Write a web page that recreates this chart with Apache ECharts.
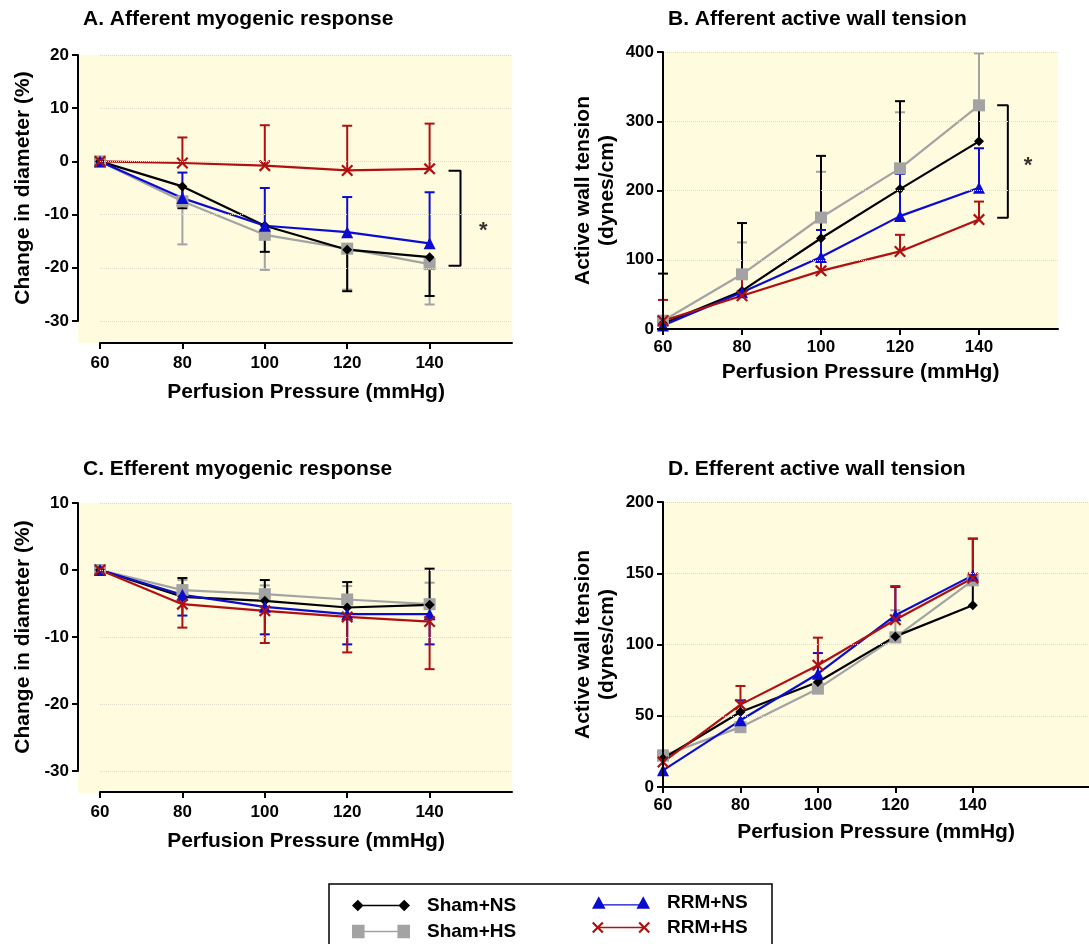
<!DOCTYPE html>
<html>
<head>
<meta charset="utf-8">
<script src="https://cdn.jsdelivr.net/npm/echarts@6/dist/echarts.min.js"></script>
<style>
  html, body { margin: 0; padding: 0; background: #fff; }
  #main { width: 1089px; height: 944px; }
</style>
</head>
<body>
<div id="main"></div>
<script>
// perfusion pressure steps (mmHg)
var pressures = [60, 80, 100, 120, 140];
var groups = ['Sham+NS', 'Sham+HS', 'RRM+NS', 'RRM+HS'];

// A. afferent myogenic response (% change in diameter), mean and end of error bar
var aShamNS = [0, -4.7, -12.1, -16.6, -18.0];
var aShamNSErr = [null, -8.8, -17.0, -24.4, -25.3];
var aShamHS = [0, -7.5, -13.8, -16.4, -19.3];
var aShamHSErr = [null, -15.6, -20.4, -24.1, -26.9];
var aRrmNS = [0, -6.9, -12.1, -13.3, -15.4];
var aRrmNSErr = [null, -2.1, -5.0, -6.7, -5.8];
var aRrmHS = [0, -0.3, -0.8, -1.7, -1.4];
var aRrmHSErr = [null, 4.5, 6.8, 6.7, 7.1];

// B. afferent active wall tension (dynes/cm)
var bShamNS = [8, 55, 131, 202, 271];
var bShamNSErr = [80, 153, 250, 329, 318];
var bShamHS = [12, 79, 161, 232, 323];
var bShamHSErr = [null, 125, 227, 313, 398];
var bRrmNS = [5, 53, 104, 163, 204];
var bRrmNSErr = [null, 79, 143, 224, 261];
var bRrmHS = [12, 48, 84, 112, 158];
var bRrmHSErr = [42, 75, 99, 136, 184];

// C. efferent myogenic response (%)
var cShamNS = [0, -4.0, -4.6, -5.6, -5.2];
var cShamNSErr = [null, -1.2, -1.5, -1.8, 0.2];
var cShamHS = [0, -3.0, -3.6, -4.4, -5.1];
var cShamHSErr = [null, -1.5, -2.3, -2.4, -1.9];
var cRrmNS = [0, -3.7, -5.5, -6.6, -6.6];
var cRrmNSErr = [null, -6.8, -9.6, -11.1, -11.1];
var cRrmHS = [0, -5.1, -6.1, -7.0, -7.7];
var cRrmHSErr = [null, -8.6, -10.9, -12.3, -14.8];

// D. efferent active wall tension (dynes/cm)
var dShamNS = [20, 52.6, 73.7, 105.7, 127.5];
var dShamNSErr = [null, null, null, null, 145];
var dShamHS = [22, 42, 69, 105, 145];
var dShamHSErr = [25.7, null, null, 124, null];
var dRrmNS = [11.7, 46.8, 79.5, 120.5, 148.5];
var dRrmNSErr = [null, 60.8, 94, 140.4, 174.3];
var dRrmHS = [17.5, 57.8, 85.4, 117.4, 146.7];
var dRrmHSErr = [23.4, 70.9, 104.8, 141, 174.3];

// significance brackets and stars
var aBracket = [[144.6, -1.75], [147.5, -1.75], [147.5, -19.6], [144.6, -19.6]];
var aStar = [153, -12.2];
var bBracket = [[144.6, 323], [147.3, 323], [147.3, 160.5], [144.6, 160.5]];
var bStar = [152.4, 243];

var FONT = 'Liberation Sans, Arial, sans-serif';
var colors = { 'Sham+NS': '#000000', 'Sham+HS': '#a3a3a3', 'RRM+NS': '#0c0cd0', 'RRM+HS': '#b01010' };
var xPath = 'path://M0,1.3 L1.3,0 L5,3.7 L8.7,0 L10,1.3 L6.3,5 L10,8.7 L8.7,10 L5,6.3 L1.3,10 L0,8.7 L3.7,5 Z';
var symbols = { 'Sham+NS': 'diamond', 'Sham+HS': 'rect', 'RRM+NS': 'triangle', 'RRM+HS': xPath };
var sizes = { 'Sham+NS': 10, 'Sham+HS': 12, 'RRM+NS': 12, 'RRM+HS': 12 };
var bgYellow = '#fefbdf';

var series = [];

function pairs(vals) {
  var out = [];
  for (var i = 0; i < pressures.length; i++) out.push([pressures[i], vals[i]]);
  return out;
}

function errRows(vals, errs) {
  var out = [];
  for (var i = 0; i < pressures.length; i++) {
    if (errs[i] !== null) out.push([pressures[i], vals[i], errs[i]]);
  }
  return out;
}

function renderErr(params, api) {
  var x = api.value(0), y = api.value(1), e = api.value(2);
  var p = api.coord([x, y]);
  var q = api.coord([x, e]);
  var st = { stroke: api.visual('color'), lineWidth: 2 };
  return {
    type: 'group',
    children: [
      { type: 'line', shape: { x1: p[0], y1: p[1], x2: q[0], y2: q[1] }, style: st },
      { type: 'line', shape: { x1: q[0] - 5, y1: q[1], x2: q[0] + 5, y2: q[1] }, style: st }
    ]
  };
}

// 一个面板: 先画误差线, 再画折线
function addPanel(axisIdx, data) {
  var order = ['Sham+HS', 'Sham+NS', 'RRM+NS', 'RRM+HS'];
  order.forEach(function (g) {
    series.push({
      name: g + ' err',
      type: 'custom',
      xAxisIndex: axisIdx, yAxisIndex: axisIdx,
      clip: false,
      itemStyle: { color: colors[g] },
      renderItem: renderErr,
      encode: { x: 0, y: 1 },
      data: errRows(data[g][0], data[g][1]),
      z: 2
    });
  });
  order.forEach(function (g) {
    series.push({
      name: g,
      type: 'line',
      xAxisIndex: axisIdx, yAxisIndex: axisIdx,
      clip: false,
      symbol: symbols[g],
      symbolSize: sizes[g],
      itemStyle: { color: colors[g] },
      lineStyle: { color: colors[g], width: 2.2 },
      data: pairs(data[g][0]),
      z: 3
    });
  });
}

function addBracket(axisIdx, pts, star) {
  series.push({
    type: 'line', xAxisIndex: axisIdx, yAxisIndex: axisIdx, clip: false,
    symbol: 'none', lineStyle: { color: '#000', width: 2 }, data: pts
  });
  series.push({
    type: 'scatter', xAxisIndex: axisIdx, yAxisIndex: axisIdx, clip: false,
    symbolSize: 1, itemStyle: { color: 'transparent' }, data: [star],
    label: { show: true, position: 'inside', formatter: '*', fontSize: 22, fontWeight: 'bold', color: '#000', fontFamily: FONT, offset: [0, 5] }
  });
}

addPanel(0, {
  'Sham+NS': [aShamNS, aShamNSErr], 'Sham+HS': [aShamHS, aShamHSErr],
  'RRM+NS': [aRrmNS, aRrmNSErr], 'RRM+HS': [aRrmHS, aRrmHSErr]
});
addPanel(1, {
  'Sham+NS': [bShamNS, bShamNSErr], 'Sham+HS': [bShamHS, bShamHSErr],
  'RRM+NS': [bRrmNS, bRrmNSErr], 'RRM+HS': [bRrmHS, bRrmHSErr]
});
addPanel(2, {
  'Sham+NS': [cShamNS, cShamNSErr], 'Sham+HS': [cShamHS, cShamHSErr],
  'RRM+NS': [cRrmNS, cRrmNSErr], 'RRM+HS': [cRrmHS, cRrmHSErr]
});
addPanel(3, {
  'Sham+NS': [dShamNS, dShamNSErr], 'Sham+HS': [dShamHS, dShamHSErr],
  'RRM+NS': [dRrmNS, dRrmNSErr], 'RRM+HS': [dRrmHS, dRrmHSErr]
});
addBracket(0, aBracket, aStar);
addBracket(1, bBracket, bStar);

function xAx(grid, max, offset, gap, margin) {
  return {
    gridIndex: grid, type: 'value', min: 60, max: max, offset: offset,
    axisLine: { show: true, onZero: false, lineStyle: { color: '#000', width: 2 } },
    axisTick: { show: true, length: 6, customValues: pressures, lineStyle: { color: '#000', width: 2 } },
    axisLabel: { customValues: pressures, margin: margin, fontSize: 17, fontWeight: 'bold', color: '#000', fontFamily: FONT },
    splitLine: { show: false },
    name: 'Perfusion Pressure (mmHg)', nameLocation: 'middle', nameGap: gap,
    nameTextStyle: { fontSize: 21, fontWeight: 'bold', color: '#000', fontFamily: FONT },
    z: 5
  };
}

function yAx(grid, min, max, step, offset, name, gap) {
  return {
    gridIndex: grid, type: 'value', min: min, max: max, interval: step, offset: offset,
    axisLine: { show: true, onZero: false, lineStyle: { color: '#000', width: 2 } },
    axisTick: { show: true, length: 6, lineStyle: { color: '#000', width: 2 } },
    axisLabel: { margin: 9, fontSize: 17, fontWeight: 'bold', color: '#000', fontFamily: FONT },
    splitLine: { show: true, lineStyle: { color: '#dcdac8', type: 'dotted', width: 1 } },
    name: name, nameLocation: 'middle', nameGap: gap,
    nameTextStyle: { fontSize: 21, fontWeight: 'bold', color: '#000', fontFamily: FONT, lineHeight: 24 },
    z: 5
  };
}

function hidden(grid) {
  return { gridIndex: grid, type: 'value', show: false, min: 0, max: 1 };
}

function legendIcon(g) {
  if (g === 'Sham+NS') return 'path://M0,7 L6,1 L12,7 L6,13 Z M6,6.3 L54,6.3 L54,7.7 L6,7.7 Z M48,7 L54,1 L60,7 L54,13 Z';
  if (g === 'Sham+HS') return 'path://M0,0 L13,0 L13,14 L0,14 Z M13,6.3 L47,6.3 L47,7.7 L13,7.7 Z M47,0 L60,0 L60,14 L47,14 Z';
  if (g === 'RRM+NS') return 'path://M0,13 L7,0 L14,13 Z M7,8.3 L53,8.3 L53,9.7 L7,9.7 Z M46,13 L53,0 L60,13 Z';
  return 'path://M0,1.6 L1.6,0 L6,4.4 L10.4,0 L12,1.6 L7.6,6 L12,10.4 L10.4,12 L6,7.6 L1.6,12 L0,10.4 L4.4,6 Z M7,5.3 L53,5.3 L53,6.7 L7,6.7 Z M48,1.6 L49.6,0 L54,4.4 L58.4,0 L60,1.6 L55.6,6 L60,10.4 L58.4,12 L54,7.6 L49.6,12 L48,10.4 L52.4,6 Z';
}

function legendBox(names, left, top, gap) {
  return {
    orient: 'vertical', left: left, top: top, height: 80, itemGap: gap,
    itemWidth: 58, itemHeight: 14, selectedMode: false, padding: 0,
    data: names.map(function (n) { return { name: n, icon: legendIcon(n) }; }),
    textStyle: { fontSize: 19, fontWeight: 'bold', color: '#000', fontFamily: FONT, padding: [0, 0, 0, 12] }
  };
}

var titleStyle = { fontSize: 21, fontWeight: 'bold', color: '#000', fontFamily: FONT };

var option = {
  animation: false,
  backgroundColor: '#fff',
  title: [
    { text: 'A. Afferent myogenic response', left: 83, top: 9, textStyle: titleStyle, padding: 0 },
    { text: 'B. Afferent active wall tension', left: 668, top: 9, textStyle: titleStyle, padding: 0 },
    { text: 'C. Efferent myogenic response', left: 83, top: 459, textStyle: titleStyle, padding: 0 },
    { text: 'D. Efferent active wall tension', left: 668, top: 459, textStyle: titleStyle, padding: 0 }
  ],
  grid: [
    { left: 100, top: 55, width: 412, height: 266 },
    { left: 663, top: 52, width: 395, height: 277, show: true, backgroundColor: bgYellow, borderWidth: 0 },
    { left: 100, top: 503, width: 412, height: 268 },
    { left: 663, top: 502, width: 447, height: 285, show: true, backgroundColor: bgYellow, borderWidth: 0 },
    // yellow panels behind the offset axes of A and C
    { left: 78, top: 55, width: 434, height: 288, show: true, backgroundColor: bgYellow, borderWidth: 0, z: -1 },
    { left: 78, top: 503, width: 434, height: 290, show: true, backgroundColor: bgYellow, borderWidth: 0, z: -1 }
  ],
  xAxis: [
    xAx(0, 160, 22, 39, 12),
    xAx(1, 160, 0, 33, 10),
    xAx(2, 160, 21, 39, 12),
    xAx(3, 170, 0, 35, 10),
    hidden(4), hidden(5)
  ],
  yAxis: [
    yAx(0, -30, 20, 10, 22, 'Change in diameter (%)', 43),
    yAx(1, 0, 400, 100, 0, 'Active wall tension\n(dynes/cm)', 44),
    yAx(2, -30, 10, 10, 22, 'Change in diameter (%)', 43),
    yAx(3, 0, 200, 50, 0, 'Active wall tension\n(dynes/cm)', 44),
    hidden(4), hidden(5)
  ],
  legend: [
    legendBox(['Sham+NS', 'Sham+HS'], 352, 896, 7),
    legendBox(['RRM+NS', 'RRM+HS'], 592, 893, 6)
  ],
  graphic: [
    { type: 'rect', shape: { x: 329, y: 884, width: 443, height: 80 }, style: { fill: 'none', stroke: '#000', lineWidth: 1.5 }, silent: true }
  ],
  series: series
};

var chart = echarts.init(document.getElementById('main'));
chart.setOption(option);
</script>
</body>
</html>
